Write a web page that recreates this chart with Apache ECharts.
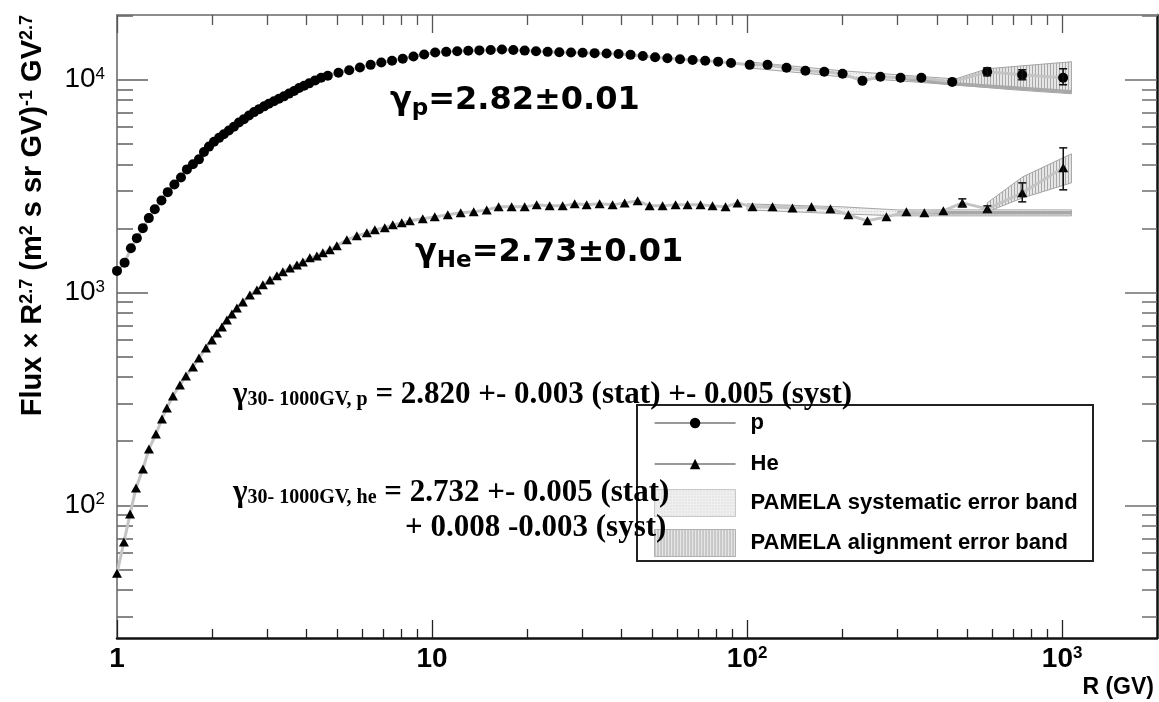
<!DOCTYPE html>
<html>
<head>
<meta charset="utf-8">
<title>PAMELA p and He flux</title>
<script src="https://cdn.jsdelivr.net/npm/echarts@6.0.0/dist/echarts.min.js"></script>
<style>
html, body { margin: 0; padding: 0; background: #fff; }
#chart { width: 1159px; height: 702px; }
</style>
</head>
<body>
<div id="chart"></div>
<script>
// rigidity R (GV) and flux x R^2.7
var pR = [1.00, 1.057, 1.107, 1.156, 1.208, 1.262, 1.318, 1.384, 1.449, 1.521, 1.596, 1.667, 1.742, 1.820, 1.888,
  1.959, 2.032, 2.109, 2.183, 2.265, 2.350, 2.438, 2.529, 2.624, 2.723, 2.825, 2.931, 3.034, 3.148, 3.266,
  3.388, 3.516, 3.648, 3.784, 3.926, 4.074, 4.256, 4.446, 4.667, 5.047, 5.458, 5.902, 6.383, 6.902, 7.464,
  8.072, 8.730, 9.441, 10.23, 11.09, 12.02, 13.03, 14.13, 15.35, 16.67, 18.11, 19.68, 21.38, 23.28, 25.35,
  27.61, 30.06, 32.81, 35.81, 39.08, 42.66, 46.67, 51.05, 55.85, 61.24, 67.14, 73.62, 80.91, 88.92, 101.9,
  116.1, 133.4, 153.1, 175.8, 200.9, 232.3, 264.8, 306.9, 357.3, 447.7, 578.1, 746.4, 1007];
var pFlux = [1262, 1380, 1611, 1799, 2004, 2234, 2460, 2704, 2958, 3214, 3467, 3784, 4000, 4217, 4571,
  4842, 5105, 5321, 5534, 5768, 5998, 6281, 6516, 6776, 7031, 7261, 7482, 7691, 7907, 8128,
  8337, 8590, 8831, 9120, 9354, 9594, 9908, 10186, 10423, 10765, 11066, 11402, 11722, 12023, 12246,
  12531, 12823, 13122, 13397, 13490, 13583, 13646, 13709, 13772, 13836, 13772, 13677, 13583, 13490, 13428,
  13397, 13366, 13305, 13243, 13183, 13062, 12912, 12735, 12589, 12445, 12359, 12246, 12134, 11967, 11722,
  11722, 11350, 10990, 10870, 10640, 9860, 10300, 10190, 10190, 9750, 10870, 10520, 10190];

var heR = [1.000, 1.052, 1.100, 1.149, 1.209, 1.263, 1.329, 1.389, 1.440, 1.505, 1.584, 1.655, 1.742, 1.820, 1.916,
  2.001, 2.076, 2.153, 2.233, 2.316, 2.402, 2.509, 2.641, 2.780, 2.904, 3.057, 3.218, 3.361, 3.538, 3.724,
  3.890, 4.094, 4.309, 4.501, 4.737, 4.986, 5.364, 5.771, 6.208, 6.583, 7.079, 7.506, 8.014, 8.500, 9.345,
  10.20, 11.22, 12.33, 13.56, 14.91, 16.27, 17.89, 19.68, 21.48, 23.62, 25.98, 28.36, 30.95, 34.03, 37.42,
  40.86, 44.93, 49.04, 53.92, 59.29, 64.71, 71.16, 77.68, 85.42, 93.25, 104.0, 120.4, 139.3, 160.1, 183.9,
  209.7, 240.9, 276.8, 320.3, 365.3, 419.6, 482.1, 578.8, 747.1, 1008];
var heFlux = [48.0, 67.2, 90.9, 120.5, 148.1, 183.8, 216.2, 254.3, 286.6, 326.2, 367.5, 405.1, 446.5, 492.3, 548.5,
  598.2, 645.2, 688.5, 742.8, 792.5, 845.7, 902.6, 973.5, 1027, 1085, 1145, 1196, 1249, 1304, 1347,
  1391, 1453, 1484, 1534, 1585, 1655, 1766, 1844, 1905, 1968, 2011, 2077, 2122, 2169, 2216,
  2264, 2314, 2365, 2390, 2442, 2523, 2523, 2523, 2578, 2550, 2550, 2606, 2578, 2606, 2578,
  2634, 2692, 2550, 2550, 2578, 2578, 2578, 2550, 2523, 2634, 2523, 2523, 2495, 2523, 2469,
  2314, 2169, 2264, 2390, 2365, 2416, 2634, 2469, 2936, 3848];

// error bars at high rigidity
var pErrR = [578.1, 746.4, 1007];
var pErrLow = [10416, 9975, 9450];
var pErrHigh = [11357, 11113, 11235];
var heErrR = [482.1, 578.8, 747.1, 1008];
var heErrLow = [2523, 2390, 2663, 3033];
var heErrHigh = [2751, 2550, 3271, 4777];

// systematic error band
var pSysR = [100, 200, 300, 450, 700, 1070];
var pSysLow = [11357, 10304, 9867, 9450, 8952, 8574];
var pSysHigh = [12118, 10996, 10530, 10083, 9552, 9148];
var heSysR = [100, 200, 300, 450, 1070];
var heSysLow = [2442, 2339, 2289, 2289, 2289];
var heSysHigh = [2606, 2523, 2442, 2442, 2442];

// alignment error band
var pAlignR = [450, 578, 750, 1070];
var pAlignLow = [9552, 9348, 9050, 8762];
var pAlignHigh = [9975, 11235, 11605, 12118];
var heAlignR = [578, 750, 1070];
var heAlignLow = [2390, 2781, 3271];
var heAlignHigh = [2634, 3491, 4477];

// gray edge lines of the bands
var pEdgeR = [300, 450, 1070];
var pEdgeF = [10190, 9552, 8762];
var heEdgeR = [300, 1070];
var heEdgeF = [2365, 2365];

// axes
var xRange = [1, 2000];
var yRange = [23.8, 20100];
var xTicks = [1, 10, 100, 1000];
var xTickBase = ['1', '10', '10', '10'];
var xTickExp = ['', '', '2', '3'];
var yTicks = [100, 1000, 10000];
var yTickBase = ['10', '10', '10'];
var yTickExp = ['2', '3', '4'];

var SANS = '"Liberation Sans", Arial, sans-serif';
var SERIF = '"Liberation Serif", "Times New Roman", serif';
var DJ = '"DejaVu Sans", sans-serif';
var lg = Math.log10;

function pairs(xs, ys) {
  return xs.map(function (x, i) { return [lg(x), lg(ys[i])]; });
}
function triples(xs, lo, hi) {
  return xs.map(function (x, i) { return [lg(x), lg(lo[i]), lg(hi[i])]; });
}
function minorTicks(lo, hi) {
  var out = [];
  for (var n = -1; n <= 5; n++) {
    for (var k = 2; k <= 9; k++) {
      var v = k * Math.pow(10, n);
      if (v > lo && v < hi) out.push(lg(v));
    }
  }
  return out;
}
function tickFmt(ticks, base, exp) {
  return function (v) {
    for (var i = 0; i < ticks.length; i++) {
      if (Math.abs(lg(ticks[i]) - v) < 1e-6) {
        return '{b|' + base[i] + '}' + (exp[i] ? '{s|' + exp[i] + '}' : '');
      }
    }
    return '';
  };
}
function pattern(w, h, bg, ink, dots) {
  var c = document.createElement('canvas');
  c.width = w; c.height = h;
  var ctx = c.getContext('2d');
  ctx.fillStyle = bg; ctx.fillRect(0, 0, w, h);
  ctx.fillStyle = ink;
  if (dots) ctx.fillRect(1, 1, 1, 1);
  else ctx.fillRect(0, 0, 1, h);
  return { image: c, repeat: 'repeat' };
}

var sysFill = pattern(3, 3, '#efefef', '#cfcfcf', true);
var alignFill = pattern(3, 4, '#e6e6e6', '#a9a9a9', false);

function band(name, rs, lo, hi, fill) {
  var pts = triples(rs, lo, hi);
  return {
    type: 'custom', name: name, z: 1, silent: true, clip: true,
    itemStyle: { color: fill },
    encode: { x: 0, y: [1, 2] },
    data: pts,
    renderItem: function (params, api) {
      if (params.dataIndex !== 0) return null;
      var up = pts.map(function (p) { return api.coord([p[0], p[2]]); });
      var dn = pts.slice().reverse().map(function (p) { return api.coord([p[0], p[1]]); });
      return {
        type: 'polygon', shape: { points: up.concat(dn) },
        style: { fill: fill, stroke: '#a5a5a5', lineWidth: 1 }
      };
    }
  };
}
function errorBars(rs, lo, hi) {
  return {
    type: 'custom', z: 4, silent: true,
    encode: { x: 0, y: [1, 2] },
    data: triples(rs, lo, hi),
    renderItem: function (params, api) {
      var a = api.coord([api.value(0), api.value(2)]);
      var b = api.coord([api.value(0), api.value(1)]);
      var s = { stroke: '#111', lineWidth: 1.5 };
      return {
        type: 'group', children: [
          { type: 'line', shape: { x1: a[0], y1: a[1], x2: b[0], y2: b[1] }, style: s },
          { type: 'line', shape: { x1: a[0] - 4, y1: a[1], x2: a[0] + 4, y2: a[1] }, style: s },
          { type: 'line', shape: { x1: b[0] - 4, y1: b[1], x2: b[0] + 4, y2: b[1] }, style: s }
        ]
      };
    }
  };
}

var xMin = lg(xRange[0]), xMax = lg(xRange[1]);
var yMin = lg(yRange[0]), yMax = lg(yRange[1]);
var xMajorV = xTicks.map(lg), xMinorV = minorTicks(xRange[0], xRange[1]);
var yMajorV = yTicks.map(lg), yMinorV = minorTicks(yRange[0], yRange[1]);

function xAx(pos, ticks, len, line, tickColor) {
  return {
    type: 'value', position: pos, min: xMin, max: xMax,
    axisLine: { show: !!line, onZero: false, lineStyle: line || {} },
    axisTick: { show: true, inside: true, length: len, customValues: ticks, lineStyle: { color: tickColor, width: 1.3 } },
    axisLabel: { show: false },
    splitLine: { show: false }
  };
}
function yAx(pos, ticks, len, line, tickColor) {
  return {
    type: 'value', position: pos, min: yMin, max: yMax,
    axisLine: { show: !!line, onZero: false, lineStyle: line || {} },
    axisTick: { show: true, inside: true, length: len, customValues: ticks, lineStyle: { color: tickColor, width: 1.6 } },
    axisLabel: { show: false },
    splitLine: { show: false }
  };
}

var xMain = xAx('bottom', xMajorV, 18, { color: '#111', width: 2.5 }, '#222');
xMain.axisLabel = {
  show: true, customValues: xMajorV, margin: 7, formatter: tickFmt(xTicks, xTickBase, xTickExp),
  rich: {
    b: { fontFamily: SANS, fontWeight: 'bold', fontSize: 28, color: '#000' },
    s: { fontFamily: SANS, fontWeight: 'bold', fontSize: 17, color: '#000', verticalAlign: 'top' }
  }
};
xMain.name = 'R (GV)';
xMain.nameLocation = 'end';
xMain.nameGap = 0;
xMain.nameMoveOverlap = false;
xMain.nameTextStyle = {
  fontFamily: SANS, fontWeight: 'bold', fontSize: 23, color: '#000',
  align: 'right', verticalAlign: 'top', padding: [38, 3, 0, 0]
};

var yMain = yAx('left', yMajorV, 31, { color: '#8a8a8a', width: 2 }, '#6a6a6a');
yMain.axisLabel = {
  show: true, customValues: yMajorV, margin: 12, formatter: tickFmt(yTicks, yTickBase, yTickExp),
  rich: {
    b: { fontFamily: SANS, fontSize: 28, color: '#000' },
    s: { fontFamily: SANS, fontSize: 17, color: '#000', verticalAlign: 'top' }
  }
};
yMain.name = 'Flux {m|\u00d7} R{s|2.7} (m{s|2} s sr GV){s|-1} GV{s|2.7}';
yMain.nameLocation = 'end';
yMain.nameGap = 0;
yMain.nameRotate = 90;
yMain.nameMoveOverlap = false;
yMain.nameTextStyle = {
  fontFamily: SANS, fontWeight: 'bold', fontSize: 29, color: '#000',
  align: 'right', verticalAlign: 'bottom', padding: [0, 0, 70, 0],
  rich: {
    m: { fontFamily: SANS, fontSize: 27, color: '#000' },
    s: { fontFamily: SANS, fontWeight: 'bold', fontSize: 18, color: '#000', verticalAlign: 'top' }
  }
};

var serifRich = {
  g: { fontFamily: SERIF, fontWeight: 'bold', fontSize: 31, lineHeight: 35, verticalAlign: 'bottom' },
  s: { fontFamily: SERIF, fontWeight: 'bold', fontSize: 20, lineHeight: 24, verticalAlign: 'bottom' },
  t: { fontFamily: SERIF, fontWeight: 'bold', fontSize: 31, lineHeight: 35, verticalAlign: 'bottom' }
};
var bigRich = {
  g: { fontFamily: DJ, fontWeight: 'bold', fontSize: 32, lineHeight: 36, verticalAlign: 'top' },
  s: { fontFamily: DJ, fontWeight: 'bold', fontSize: 23, lineHeight: 26, verticalAlign: 'bottom', padding: [13, 0, 0, 0] },
  t: { fontFamily: DJ, fontWeight: 'bold', fontSize: 32, lineHeight: 36, verticalAlign: 'top' }
};

var legendText = { fontFamily: SANS, fontWeight: 'bold', fontSize: 22, color: '#000', padding: [0, 0, 0, 10] };

var option = {
  animation: false,
  backgroundColor: '#fff',
  grid: { left: 117, top: 15, width: 1040, height: 623, containLabel: false, outerBoundsMode: 'none' },
  xAxis: [
    xMain,
    xAx('bottom', xMinorV, 9, null, '#222'),
    xAx('top', xMajorV, 18, { color: '#8c8c8c', width: 2 }, '#555'),
    xAx('top', xMinorV, 10, null, '#555')
  ],
  yAxis: [
    yMain,
    yAx('left', yMinorV, 16, null, '#6a6a6a'),
    yAx('right', yMajorV, 32, { color: '#111', width: 2.5 }, '#777'),
    yAx('right', yMinorV, 15, null, '#777')
  ],
  legend: [
    {
      orient: 'vertical', left: 654, top: 412, padding: 0, itemWidth: 81, itemHeight: 13, itemGap: 19,
      selectedMode: false, textStyle: legendText, z: 5,
      data: [
        { name: 'p', itemStyle: { color: '#000' }, lineStyle: { color: '#333', width: 1.2 } },
        { name: 'He', itemStyle: { color: '#000' }, lineStyle: { color: '#333', width: 1.2 } }
      ]
    },
    {
      orient: 'vertical', left: 654, top: 489, padding: 0, itemWidth: 81, itemHeight: 27, itemGap: 12,
      selectedMode: false, textStyle: legendText, z: 5, icon: 'rect',
      data: [
        { name: 'PAMELA systematic error band', icon: 'rect', itemStyle: { color: sysFill, borderColor: '#c8c8c8', borderWidth: 1 } },
        { name: 'PAMELA alignment error band', icon: 'rect', itemStyle: { color: alignFill, borderColor: '#b0b0b0', borderWidth: 1 } }
      ]
    }
  ],
  graphic: [
    { type: 'rect', z: 3, shape: { x: 637, y: 405, width: 456, height: 156 }, style: { fill: '#fff', stroke: '#222', lineWidth: 2 } },
    { type: 'text', z: 10, x: 390, y: 85, style: { text: '{g|\u03b3}{s|p}{t|=2.82\u00b10.01}', rich: bigRich, fill: '#000' } },
    { type: 'text', z: 10, x: 415, y: 237, style: { text: '{g|\u03b3}{s|He}{t|=2.73\u00b10.01}', rich: bigRich, fill: '#000' } },
    { type: 'text', z: 10, x: 233, y: 375, style: { text: '{g|\u03b3}{s|30- 1000GV, p}{t| = 2.820 +- 0.003 (stat) +- 0.005 (syst)}', rich: serifRich, fill: '#000' } },
    { type: 'text', z: 10, x: 233, y: 473, style: { text: '{g|\u03b3}{s|30- 1000GV, he}{t| = 2.732 +- 0.005 (stat)}', rich: serifRich, fill: '#000' } },
    { type: 'text', z: 10, x: 405, y: 508, style: { text: '{t|+ 0.008 -0.003 (syst)}', rich: serifRich, fill: '#000' } }
  ],
  series: [
    band('PAMELA systematic error band', pSysR, pSysLow, pSysHigh, sysFill),
    band('PAMELA systematic error band', heSysR, heSysLow, heSysHigh, sysFill),
    band('PAMELA alignment error band', pAlignR, pAlignLow, pAlignHigh, alignFill),
    band('PAMELA alignment error band', heAlignR, heAlignLow, heAlignHigh, alignFill),
    {
      type: 'line', z: 1, silent: true, symbol: 'none', data: pairs(pEdgeR, pEdgeF),
      lineStyle: { color: '#a8a8a8', width: 3.5 }
    },
    {
      type: 'line', z: 1, silent: true, symbol: 'none', data: pairs(heEdgeR, heEdgeF),
      lineStyle: { color: '#a8a8a8', width: 3.5 }
    },
    {
      name: 'p', type: 'line', z: 3, data: pairs(pR, pFlux),
      symbol: 'circle', symbolSize: 10, itemStyle: { color: '#000' },
      lineStyle: { color: '#c4c4c4', width: 3 }, emphasis: { disabled: true }
    },
    {
      name: 'He', type: 'line', z: 3, data: pairs(heR, heFlux),
      symbol: 'triangle', symbolSize: [10, 9], itemStyle: { color: '#000' },
      lineStyle: { color: '#c4c4c4', width: 3 }, emphasis: { disabled: true }
    },
    errorBars(pErrR, pErrLow, pErrHigh),
    errorBars(heErrR, heErrLow, heErrHigh)
  ]
};

var chart = echarts.init(document.getElementById('chart'));
chart.setOption(option);
</script>
</body>
</html>
